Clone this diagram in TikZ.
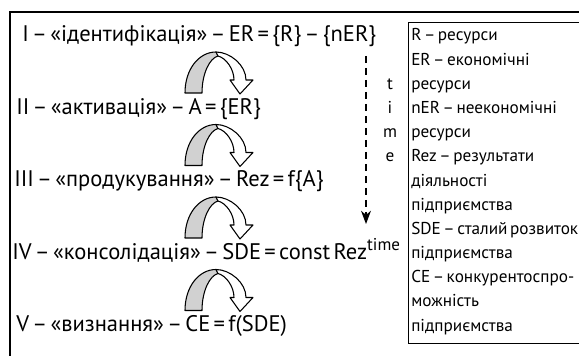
\documentclass[tikz,border=0pt]{standalone}
\usepackage{fontspec}
\setmainfont[WordSpace=0.55]{PT Sans}
\usetikzlibrary{arrows.meta}

\tikzset{
  stage/.style={anchor=base west, inner sep=0pt, font=\fontsize{16.9}{19}\selectfont},
  legendline/.style={anchor=base west, inner sep=0pt, font=\fontsize{12.9}{15}\selectfont},
  timeletter/.style={anchor=base, inner sep=0pt, font=\fontsize{12.9}{15}\selectfont},
  timeline/.style={dashed, dash pattern=on 5 off 4, line width=0.8pt, -{Stealth[length=10pt,width=7.5pt]}},
  bendarrow/.pic={
    % сіра частина дуги
    \draw[fill=black!18, line width=0.8pt, line join=round]
      (0,0) .. controls (0,-24) and (14,-41) .. (31,-41)
      -- (33,-37) .. controls (25,-35) and (17,-20) .. (17,0) -- cycle;
    % біла частина з вістрям
    \draw[fill=white, line width=0.8pt, line join=round]
      (31,-41) .. controls (45,-41) and (61,-28) .. (61,-13)
      -- (68,-13) -- (55,1) -- (45,-13) -- (49,-13)
      .. controls (49,-24) and (41,-35) .. (33,-37) -- cycle;
  }
}

\begin{document}
\begin{tikzpicture}[x=0.75pt,y=-0.75pt]
  \useasboundingbox (0,0) rectangle (579,356);
  \fill[white] (0,0) rectangle (579,356);
  \clip (0,0) rectangle (579,356);

  % рамки
  \draw[line width=1.9pt] (10,12) rectangle (600,380);
  \draw[line width=0.6pt] (408,22) rectangle (600,343);

  % етапи
  \node[stage] (stage1) at (22,42) {I – «ідентифікація» – ER = \{R\} – \{nER\}};
  \node[stage] (stage2) at (16,114.5) {II – «активація» – A = \{ER\}};
  \node[stage] (stage3) at (14,187) {III – «продукування» – Rez = f\{A\}};
  \node[stage] (stage4) at (12,259.5) {IV – «консолідація» – SDE = const Rez\raisebox{0.42em}{\fontsize{12.8}{13}\selectfont time}};
  \node[stage] (stage5) at (16,332) {V – «визнання» – CE = f(SDE)};

  % стрілки між етапами
  \foreach \y in {93,165.5,238,310.5}
    \pic at (185,\y) {bendarrow};

  % вісь часу
  \coordinate (timetop) at (366,56);
  \coordinate (timebot) at (366,224);
  \draw[timeline] (timetop) -- (timebot);
  \foreach \ch [count=\i] in {t,i,m,e}
    \node[timeletter] (time\i) at (390,{84.3+(\i-1)*24.17+5}) {\ch};

  % пояснення
  \foreach \txt [count=\i] in {R – ресурси, ER – економічні, ресурси,
      nER – неекономічні, ресурси, Rez – результати, діяльності,
      підприємства, SDE – сталий розвиток, підприємства,
      CE – конкурентоспро-, можність, підприємства}
    \node[legendline] (legend\i) at (411,{36+(\i-1)*24.17+5}) {\txt};
\end{tikzpicture}
\end{document}
